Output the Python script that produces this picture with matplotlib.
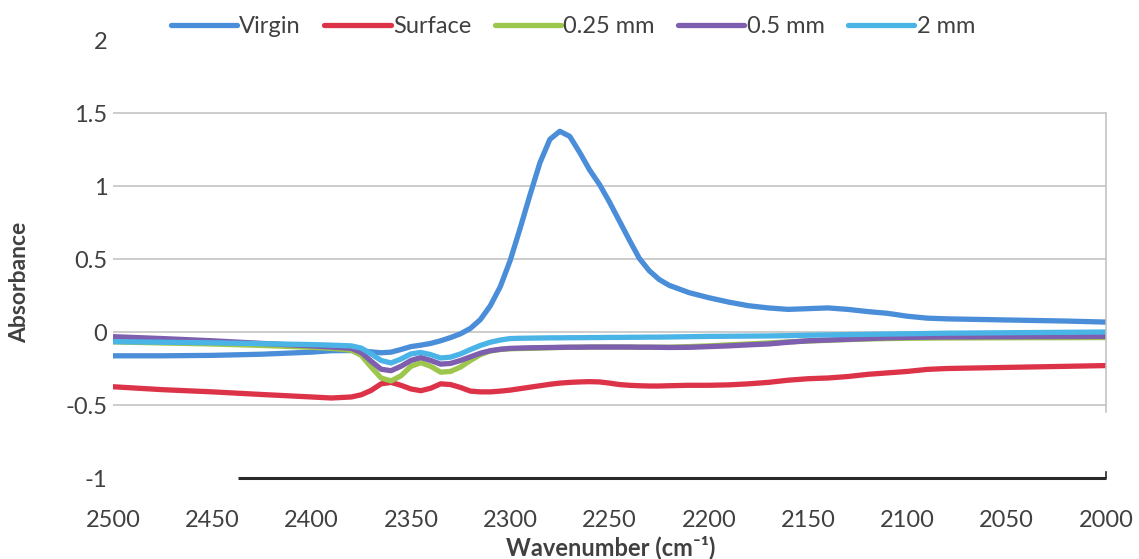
import matplotlib
matplotlib.use("Agg")
import matplotlib.pyplot as plt

plt.rcParams['font.family'] = ['Lato', 'DejaVu Sans']

# Wavenumber grid (cm^-1) shared by all spectra
wavenumber = [2500, 2475, 2450, 2425, 2400, 2390, 2380, 2375, 2370, 2365,
              2360, 2355, 2350, 2345, 2340, 2335, 2330, 2325, 2320, 2315,
              2310, 2305, 2300, 2295, 2290, 2285, 2280, 2275, 2270, 2265,
              2260, 2255, 2250, 2245, 2240, 2235, 2230, 2225, 2220, 2210,
              2200, 2190, 2180, 2170, 2160, 2150, 2140, 2130, 2120, 2110,
              2100, 2090, 2080, 2060, 2040, 2020, 2000]

virgin = [-0.163, -0.163, -0.160, -0.152, -0.138, -0.128, -0.127, -0.130, -0.136, -0.142,
          -0.138, -0.120, -0.100, -0.090, -0.078, -0.060, -0.038, -0.012, 0.025, 0.085,
          0.180, 0.310, 0.490, 0.710, 0.940, 1.160, 1.320, 1.375, 1.340, 1.230,
          1.110, 1.010, 0.890, 0.760, 0.630, 0.505, 0.420, 0.360, 0.320, 0.270,
          0.235, 0.205, 0.180, 0.165, 0.155, 0.160, 0.165, 0.155, 0.140, 0.128,
          0.108, 0.095, 0.090, 0.085, 0.080, 0.075, 0.068]

surface = [-0.375, -0.395, -0.410, -0.428, -0.445, -0.452, -0.445, -0.430, -0.400, -0.355,
           -0.345, -0.365, -0.390, -0.402, -0.385, -0.355, -0.360, -0.380, -0.405, -0.410,
           -0.410, -0.405, -0.398, -0.388, -0.378, -0.368, -0.358, -0.350, -0.345, -0.342,
           -0.340, -0.342, -0.350, -0.360, -0.365, -0.368, -0.370, -0.370, -0.368, -0.365,
           -0.365, -0.362, -0.355, -0.345, -0.330, -0.320, -0.315, -0.305, -0.290, -0.280,
           -0.270, -0.256, -0.250, -0.245, -0.240, -0.235, -0.230]

mm_025 = [-0.068, -0.075, -0.082, -0.092, -0.105, -0.112, -0.125, -0.160, -0.240, -0.315,
          -0.335, -0.300, -0.235, -0.210, -0.235, -0.275, -0.270, -0.240, -0.195, -0.155,
          -0.130, -0.120, -0.115, -0.113, -0.112, -0.110, -0.108, -0.106, -0.105, -0.104,
          -0.103, -0.103, -0.103, -0.103, -0.103, -0.104, -0.104, -0.104, -0.104, -0.100,
          -0.095, -0.088, -0.082, -0.075, -0.068, -0.062, -0.057, -0.052, -0.048, -0.045,
          -0.043, -0.042, -0.041, -0.040, -0.039, -0.039, -0.038]

mm_05 = [-0.032, -0.045, -0.060, -0.078, -0.095, -0.103, -0.112, -0.140, -0.200, -0.255,
         -0.265, -0.235, -0.195, -0.175, -0.195, -0.220, -0.215, -0.195, -0.170, -0.145,
         -0.128, -0.118, -0.112, -0.110, -0.108, -0.107, -0.106, -0.105, -0.104, -0.104,
         -0.103, -0.103, -0.103, -0.103, -0.103, -0.104, -0.104, -0.105, -0.106, -0.105,
         -0.100, -0.095, -0.088, -0.082, -0.070, -0.060, -0.055, -0.050, -0.045, -0.040,
         -0.037, -0.035, -0.034, -0.033, -0.032, -0.031, -0.030]

mm_2 = [-0.066, -0.070, -0.074, -0.080, -0.086, -0.090, -0.095, -0.110, -0.150, -0.195,
        -0.212, -0.185, -0.150, -0.140, -0.155, -0.178, -0.172, -0.150, -0.120, -0.092,
        -0.070, -0.055, -0.045, -0.043, -0.042, -0.041, -0.040, -0.040, -0.039, -0.039,
        -0.038, -0.038, -0.037, -0.037, -0.036, -0.036, -0.035, -0.035, -0.034, -0.032,
        -0.030, -0.029, -0.028, -0.027, -0.025, -0.022, -0.020, -0.018, -0.016, -0.014,
        -0.012, -0.010, -0.008, -0.006, -0.004, -0.002, 0.000]

series_labels = ['Virgin', 'Surface', '0.25 mm', '0.5 mm', '2 mm']
series_colors = ['#4A8DD8', '#DC3349', '#9DC64C', '#7D5EAF', '#4AB4E6']

x_ticks = [2500, 2450, 2400, 2350, 2300, 2250, 2200, 2150, 2100, 2050, 2000]
y_ticks = [-1, -0.5, 0, 0.5, 1, 1.5, 2]
y_tick_labels = ['-1', '-0.5', '0', '0.5', '1', '1.5', '2']

fig = plt.figure(figsize=(11.39, 5.59), dpi=100)
ax = fig.add_axes([0.0992, 0.1449, 0.8718, 0.7835])

# gridlines (no line at the top value)
for yv in y_ticks[1:-1]:
    ax.axhline(yv, color='#BFBFBF', lw=1.1, zorder=0)

for data, lab, col in zip([virgin, surface, mm_025, mm_05, mm_2], series_labels, series_colors):
    ax.plot(wavenumber, data, color=col, lw=3.8, label=lab, solid_capstyle='round',
            solid_joinstyle='round')

ax.set_xlim(2500, 2000)
ax.set_ylim(-1, 2)

for s in ax.spines.values():
    s.set_visible(False)

# frame pieces: dark baseline at -1, light right border
ax.plot([2437, 2000], [-1, -1], color='#2A2A2A', lw=2.2, solid_capstyle='butt', clip_on=False)
ax.plot([2000, 2000], [-1, -0.96], color='#2A2A2A', lw=1.2, clip_on=False)
ax.plot([2000, 2000], [-0.55, 1.5], color='#BFBFBF', lw=1.1, clip_on=False)

ax.set_xticks(x_ticks)
ax.set_xticklabels([str(v) for v in x_ticks])
ax.set_yticks(y_ticks)
ax.set_yticklabels(y_tick_labels)
ax.tick_params(axis='both', length=0, labelsize=17, colors='#404040')
ax.tick_params(axis='x', pad=23)
ax.tick_params(axis='y', pad=4)

fig.text(0.0175, 0.495, 'Absorbance', rotation=90, ha='center', va='center',
         fontsize=16.5, fontweight='bold', color='#404040')
fig.text(0.536, 0.021, 'Wavenumber (cm\u207b\u00b9)', ha='center', va='center',
         fontsize=17, fontweight='bold', color='#404040')

leg = fig.legend(loc='center', bbox_to_anchor=(0.503, 0.952), ncol=5, frameon=False,
                 fontsize=17, handlelength=2.8, handletextpad=0.1, columnspacing=1.0,
                 labelcolor='#404040')
for h in leg.get_lines():
    h.set_linewidth(3.8)

fig.savefig('out.png', dpi=100, facecolor='white')
